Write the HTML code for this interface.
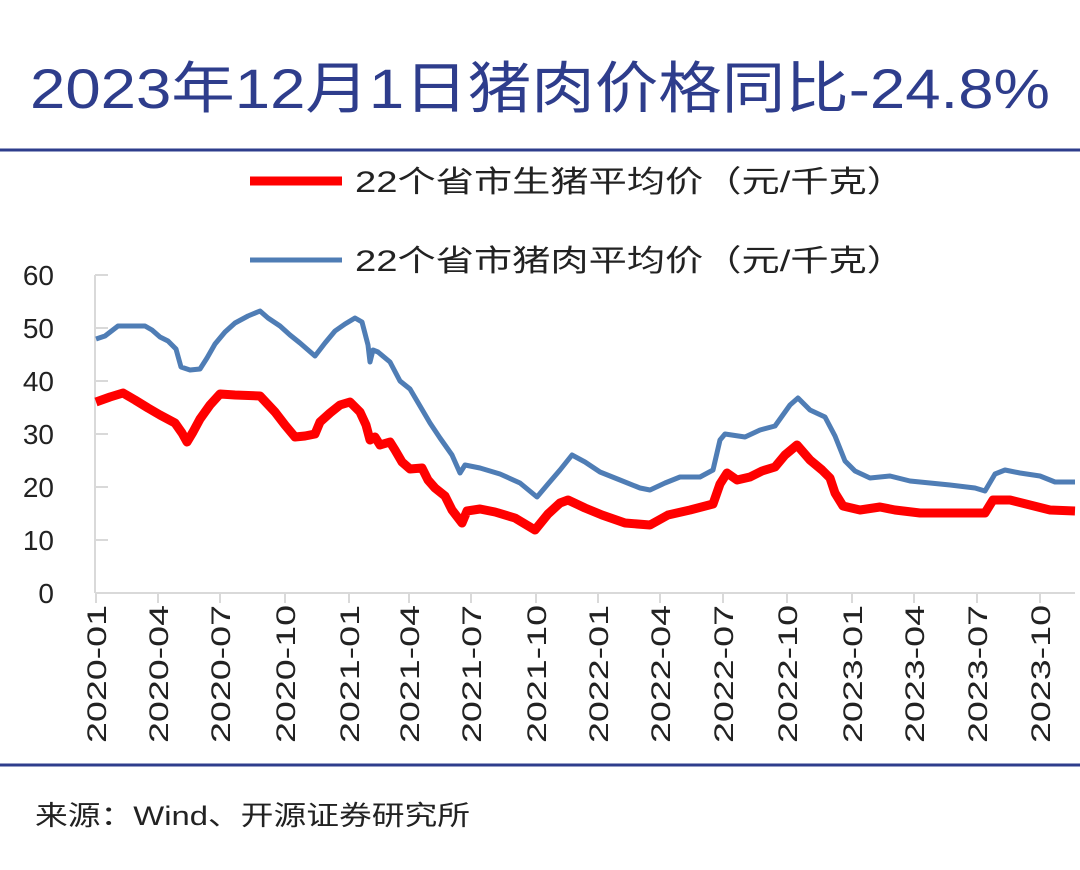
<!DOCTYPE html>
<html><head><meta charset="utf-8"><style>
body{margin:0;background:#fff;width:1080px;height:865px;overflow:hidden}
text{font-family:"Liberation Sans","Noto Sans CJK SC",sans-serif}
</style></head><body>
<svg width="1080" height="865" xmlns="http://www.w3.org/2000/svg">
<text x="30" y="108" font-size="56" fill="#2E3D8C" textLength="1020" lengthAdjust="spacingAndGlyphs">2023年12月1日猪肉价格同比-24.8%</text>
<line x1="0" y1="150" x2="1080" y2="150" stroke="#2E3D8C" stroke-width="3"/>
<line x1="250" y1="181" x2="342" y2="181" stroke="#f00" stroke-width="9"/>
<text x="355" y="192" font-size="30" fill="#222" textLength="550" lengthAdjust="spacingAndGlyphs">22个省市生猪平均价（元/千克）</text>
<line x1="250" y1="260" x2="342" y2="260" stroke="#4F7DB5" stroke-width="5"/>
<text x="355" y="271" font-size="30" fill="#222" textLength="550" lengthAdjust="spacingAndGlyphs">22个省市猪肉平均价（元/千克）</text>
<g font-size="28" fill="#222" text-anchor="end">
<text x="54" y="285">60</text><text x="54" y="338">50</text><text x="54" y="391">40</text><text x="54" y="444">30</text><text x="54" y="497">20</text><text x="54" y="550">10</text><text x="54" y="603">0</text>
</g>
<g stroke="#d9d9d9" stroke-width="2">
<line x1="95" y1="275" x2="95" y2="593"/><line x1="95" y1="593" x2="1075" y2="593"/>
<line x1="95" y1="275" x2="108" y2="275"/><line x1="95" y1="328" x2="108" y2="328"/><line x1="95" y1="381" x2="108" y2="381"/><line x1="95" y1="434" x2="108" y2="434"/><line x1="95" y1="487" x2="108" y2="487"/><line x1="95" y1="540" x2="108" y2="540"/>
<path d="M96 593v10M158 593v10M220 593v10M285 593v10M349 593v10M409 593v10M471 593v10M536 593v10M598 593v10M660 593v10M723 593v10M787 593v10M852 593v10M914 593v10M977 593v10M1040 593v10"/>
</g>
<g font-size="27" fill="#222" text-anchor="end">
<text transform="translate(106,605) rotate(-90)" textLength="138" lengthAdjust="spacingAndGlyphs">2020-01</text>
<text transform="translate(168,605) rotate(-90)" textLength="138" lengthAdjust="spacingAndGlyphs">2020-04</text>
<text transform="translate(230,605) rotate(-90)" textLength="138" lengthAdjust="spacingAndGlyphs">2020-07</text>
<text transform="translate(295,605) rotate(-90)" textLength="138" lengthAdjust="spacingAndGlyphs">2020-10</text>
<text transform="translate(359,605) rotate(-90)" textLength="138" lengthAdjust="spacingAndGlyphs">2021-01</text>
<text transform="translate(419,605) rotate(-90)" textLength="138" lengthAdjust="spacingAndGlyphs">2021-04</text>
<text transform="translate(481,605) rotate(-90)" textLength="138" lengthAdjust="spacingAndGlyphs">2021-07</text>
<text transform="translate(546,605) rotate(-90)" textLength="138" lengthAdjust="spacingAndGlyphs">2021-10</text>
<text transform="translate(608,605) rotate(-90)" textLength="138" lengthAdjust="spacingAndGlyphs">2022-01</text>
<text transform="translate(670,605) rotate(-90)" textLength="138" lengthAdjust="spacingAndGlyphs">2022-04</text>
<text transform="translate(733,605) rotate(-90)" textLength="138" lengthAdjust="spacingAndGlyphs">2022-07</text>
<text transform="translate(797,605) rotate(-90)" textLength="138" lengthAdjust="spacingAndGlyphs">2022-10</text>
<text transform="translate(862,605) rotate(-90)" textLength="138" lengthAdjust="spacingAndGlyphs">2023-01</text>
<text transform="translate(924,605) rotate(-90)" textLength="138" lengthAdjust="spacingAndGlyphs">2023-04</text>
<text transform="translate(987,605) rotate(-90)" textLength="138" lengthAdjust="spacingAndGlyphs">2023-07</text>
<text transform="translate(1050,605) rotate(-90)" textLength="138" lengthAdjust="spacingAndGlyphs">2023-10</text>
</g>
<g fill="none" stroke-linejoin="round">
<polyline stroke="#4F7DB5" stroke-width="5" points="96,339 105,336 118,326 130,326 145,326 152,330 160,337 168,341 176,349 181,367 190,370 200,369 207,358 215,344 225,332 235,323 248,316 260,311 268,318 280,326 290,335 300,343 315,356 325,343 335,331 345,324 355,318 362,322 368,345 370,362 373,350 378,352 390,362 400,381 410,389 420,406 430,423 440,438 452,455 460,473 465,465 480,468 500,474 520,483 537,497 548,484 560,470 572,455 585,462 600,472 620,480 640,488 650,490 665,483 680,477 700,477 713,470 720,440 725,434 745,437 760,430 775,426 790,405 798,398 810,410 825,417 835,436 845,461 855,471 870,478 890,476 910,481 950,485 975,488 985,491 995,474 1005,470 1020,473 1040,476 1055,482 1075,482"/>
<polyline stroke="#f00" stroke-width="9" points="96,402 110,397 123,393 135,400 148,408 160,415 175,423 182,433 187,442 193,432 200,419 210,405 220,394 235,395 260,396 275,412 285,425 295,437 305,436 315,434 320,422 330,413 340,405 350,402 360,412 366,425 370,440 375,437 380,445 390,442 395,450 402,462 410,469 422,468 428,480 435,488 445,496 452,510 462,523 467,511 480,509 495,512 515,518 535,530 548,514 560,503 568,500 585,508 602,515 625,523 650,525 668,515 690,510 713,504 720,484 727,473 737,480 750,477 762,471 775,467 785,455 797,445 810,460 822,470 830,478 835,493 843,506 860,510 880,507 895,510 920,513 960,513 985,513 993,500 1010,500 1030,505 1050,510 1075,511"/>
</g>
<line x1="0" y1="765" x2="1080" y2="765" stroke="#2E3D8C" stroke-width="3"/>
<text x="35" y="825" font-size="27" fill="#222" textLength="435" lengthAdjust="spacingAndGlyphs">来源：Wind、开源证券研究所</text>
</svg>
</body></html>
